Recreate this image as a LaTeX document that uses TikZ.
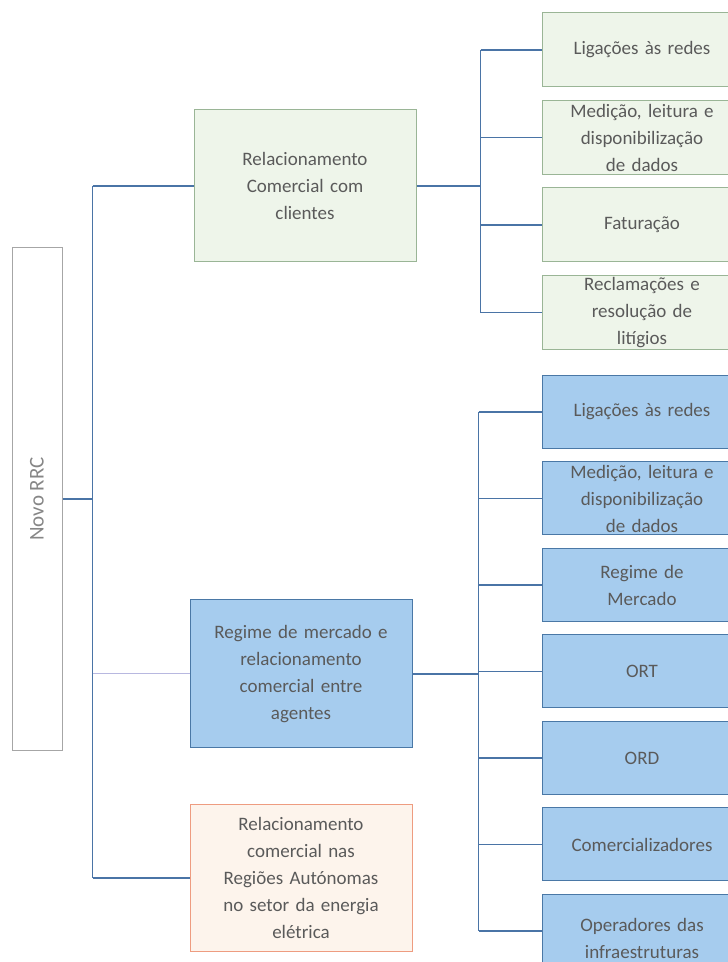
\documentclass[tikz,border=0pt]{standalone}
\usepackage{fontspec}
\setmainfont{Carlito}
\usepackage{xcolor}
\usepackage{tikz}
\usetikzlibrary{positioning,calc}
\definecolor{txtgray}{HTML}{5A5A5A}
\definecolor{linkblue}{HTML}{4A74A6}
\definecolor{grnfill}{HTML}{EEF5EA}
\definecolor{grnline}{HTML}{9AB596}
\definecolor{bluefill}{HTML}{A6CCEE}
\definecolor{blueline}{HTML}{4A78A6}
\definecolor{orgfill}{HTML}{FDF4EC}
\definecolor{orgline}{HTML}{EE9C80}
\tikzset{
  rootbox/.style={draw=gray!70, line width=1pt, minimum width=50pt, minimum height=503pt,
              inner sep=0pt, text=gray!95, font=\fontsize{21}{24}\selectfont},
  parent/.style={draw, line width=1pt, align=center, minimum width=222pt, minimum height=148pt,
              text width=200pt, text=txtgray, font=\fontsize{19}{27}\selectfont},
  child/.style={draw, line width=1pt, align=center, minimum width=200pt, minimum height=74pt,
              text width=186pt, inner sep=2pt, text=txtgray, font=\fontsize{19}{27}\selectfont},
  grn/.style={fill=grnfill, draw=grnline},
  blu/.style={fill=bluefill, draw=blueline, minimum height=73pt},
  org/.style={fill=orgfill, draw=orgline},
  link/.style={draw=linkblue, line width=1.5pt},
  faint/.style={draw=gray!60!blue!40, line width=1pt},
}

\begin{document}
\begin{tikzpicture}[x=1pt, y=1pt, node distance=12.5pt and 64pt]
  \useasboundingbox (0,0) rectangle (728,962);

  \node[rootbox] (rrc) at (37,463) {\rotatebox{90}{Novo RRC}};

  \node[parent, grn, minimum height=152pt] (rcc) at (305,776)
    {Relacionamento\\ Comercial com\\ clientes};
  \node[parent, blu, minimum height=148pt] (rmc) at (301,288)
    {Regime de mercado e\\ relacionamento\\ comercial entre\\ agentes};
  \node[parent, org, minimum height=147pt] (rac) at (301,84)
    {Relacionamento\\ comercial nas\\ Regiões Autónomas\\ no setor da energia\\ elétrica};

  \node[child, grn] (g1) at (642,912) {Ligações às redes};
  \node[child, grn, below=of g1] (g2) {Medição, leitura e\\ disponibilização\\ de dados};
  \node[child, grn, below=of g2] (g3) {Faturação};
  \node[child, grn, below=of g3] (g4) {Reclamações e\\ resolução de\\ litígios};

  \node[child, blu] (b1) at (642,550) {Ligações às redes};
  \node[child, blu, below=of b1] (b2) {Medição, leitura e\\ disponibilização\\ de dados};
  \node[child, blu, below=of b2] (b3) {Regime de\\ Mercado};
  \node[child, blu, below=of b3] (b4) {ORT};
  \node[child, blu, below=of b4] (b5) {ORD};
  \node[child, blu, below=of b5] (b6) {Comercializadores};
  \node[child, blu, below=of b6, text depth=12pt] (b7) {Operadores das\\ infraestruturas};

  \draw[link] (rrc.east) -- ++(30,0) coordinate (hub);
  \draw[link] (hub |- rcc.west) -- (hub |- rac.west);
  \draw[link] (hub |- rcc.west) -- (rcc.west);
  \draw[faint] (hub |- rmc.west) -- (rmc.west);
  \draw[link] (hub |- rac.west) -- (rac.west);

  \draw[link] (rcc.east) -- ++(64,0) coordinate (gbus);
  \draw[link] (gbus |- g1.west) -- (gbus |- g4.west);
  \foreach \g in {g1,g2,g3,g4}
    \draw[link] (gbus |- \g.west) -- (\g.west);

  \draw[link] (rmc.east) -- ++(66,0) coordinate (bbus);
  \draw[link] (bbus |- b1.west) -- (bbus |- b7.west);
  \foreach \b in {b1,b2,b3,b4,b5,b6,b7}
    \draw[link] (bbus |- \b.west) -- (\b.west);
\end{tikzpicture}
\end{document}
